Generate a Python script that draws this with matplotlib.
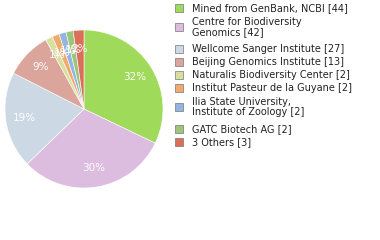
import matplotlib.pyplot as plt
from matplotlib.patches import Rectangle

names = ['Mined from GenBank, NCBI', 'Centre for Biodiversity\nGenomics',
         'Wellcome Sanger Institute', 'Beijing Genomics Institute',
         'Naturalis Biodiversity Center', 'Institut Pasteur de la Guyane',
         'Ilia State University,\nInstitute of Zoology', 'GATC Biotech AG', '3 Others']
counts = [44, 42, 27, 13, 2, 2, 2, 2, 3]
colors = ['#a0da5a', '#dcbcdf', '#ccd9e5', '#dca59c', '#d9e09f',
          '#f0aa6e', '#94b5df', '#9cc47b', '#dc6f5a']

fig = plt.figure(figsize=(3.8, 2.4), dpi=100)
ax = fig.add_axes([5 / 380, 52 / 240, 158 / 380, 158 / 240])
wedges, texts, autotexts = ax.pie(
    counts, colors=colors, startangle=90, counterclock=False,
    autopct=lambda p: '%d%%' % int(p), pctdistance=0.76,
    wedgeprops=dict(edgecolor='white', linewidth=0.4),
    textprops=dict(color='white', fontsize=7.5))
ax.set_xlim(-1, 1)
ax.set_ylim(-1, 1)
ax.set_aspect('equal')

# legend, drawn by hand so wrapped labels line up like the original
y = 232
for name, c, col in zip(names, counts, colors):
    nlines = name.count('\n') + 1
    mid = y - (nlines - 1) * 6
    fig.patches.append(Rectangle((175 / 380, (mid - 4) / 240), 8 / 380, 8 / 240,
                                 transform=fig.transFigure, facecolor=col,
                                 edgecolor='#777777', linewidth=0.5))
    fig.text(192 / 380, mid / 240, f'{name} [{c}]', fontsize=7, va='center',
             linespacing=1.1, color='#222222')
    y -= 13 * nlines + (2 if nlines > 1 else 0)

fig.savefig('out.png', dpi=100)
